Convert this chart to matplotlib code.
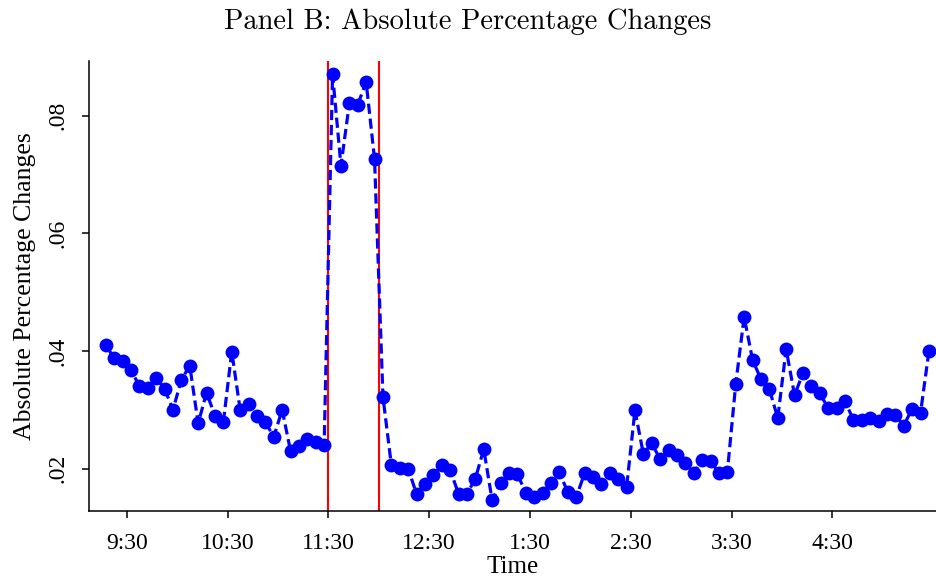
import numpy as np
import matplotlib
matplotlib.use("Agg")
import matplotlib.pyplot as plt

# 5-minute observations, plotted at interval midpoints (minutes after midnight)
start_min = 557.5
abs_pct_change = [
    0.0410, 0.0388, 0.0383, 0.0367, 0.0341, 0.0337, 0.0354, 0.0336, 0.0300, 0.0351,
    0.0375, 0.0277, 0.0329, 0.0290, 0.0279, 0.0399, 0.0300, 0.0310, 0.0290, 0.0279,
    0.0254, 0.0300, 0.0230, 0.0239, 0.0251, 0.0245, 0.0241,
    0.0871, 0.0715, 0.0821, 0.0819, 0.0857, 0.0726,
    0.0322, 0.0206, 0.0201, 0.0200, 0.0157, 0.0174, 0.0189, 0.0206, 0.0198, 0.0157,
    0.0157, 0.0183, 0.0233, 0.0146, 0.0175, 0.0193, 0.0191, 0.0159, 0.0152, 0.0159,
    0.0175, 0.0194, 0.0160, 0.0151, 0.0192, 0.0186, 0.0174, 0.0193, 0.0182, 0.0168,
    0.0299,
    0.0225, 0.0243, 0.0216, 0.0231, 0.0223, 0.0209, 0.0192, 0.0215, 0.0213, 0.0193,
    0.0194, 0.0344, 0.0458, 0.0385, 0.0352, 0.0335, 0.0286, 0.0403, 0.0325, 0.0362,
    0.0341, 0.0328, 0.0303, 0.0303, 0.0315, 0.0283, 0.0283, 0.0286, 0.0281, 0.0293,
    0.0291, 0.0273, 0.0302, 0.0295, 0.0400,
]
times = start_min + 5 * np.arange(len(abs_pct_change))

event_lines = [690, 720]  # 11:30 and 12:00
tick_pos = [570, 630, 690, 750, 810, 870, 930, 990]
tick_labels = ['9:30', '10:30', '11:30', '12:30', '1:30', '2:30', '3:30', '4:30']
ytick_pos = [0.02, 0.04, 0.06, 0.08]
ytick_labels = ['.02', '.04', '.06', '.08']

plt.rcParams['font.family'] = ['Liberation Serif', 'DejaVu Serif']

fig = plt.figure(figsize=(9.36, 5.77), dpi=100)
ax = fig.add_axes([0.0954, 0.1144, 0.9046, 0.7799])

for xv in event_lines:
    ax.axvline(xv, color='red', lw=1.5, zorder=1)

ax.plot(times, abs_pct_change, color='blue', lw=2.3, linestyle=(0, (3.2, 1.5)),
        marker='o', markersize=10, markeredgewidth=0, zorder=3)

ax.set_xlim(547.7, 1051.7)
ax.set_ylim(0.0128, 0.0893)
ax.set_xticks(tick_pos)
ax.set_xticklabels(tick_labels, fontsize=17)
ax.set_yticks(ytick_pos)
ax.set_yticklabels(ytick_labels, fontsize=17, rotation=90, va='center')

ax.spines['top'].set_visible(False)
ax.spines['right'].set_visible(False)
ax.spines['left'].set_linewidth(1.1)
ax.spines['bottom'].set_linewidth(1.1)
ax.tick_params(axis='x', length=5, width=1.1, pad=11)
ax.tick_params(axis='y', length=5, width=1.1, pad=10)

ax.set_xlabel('Time', fontsize=18, labelpad=1)
ax.set_ylabel('Absolute Percentage Changes', fontsize=18.5, labelpad=8)
fig.suptitle('Panel B: Absolute Percentage Changes', fontsize=20.5,
             fontfamily='cmr10', x=0.5, y=0.985, va='top')

fig.savefig('out.png', dpi=100)
